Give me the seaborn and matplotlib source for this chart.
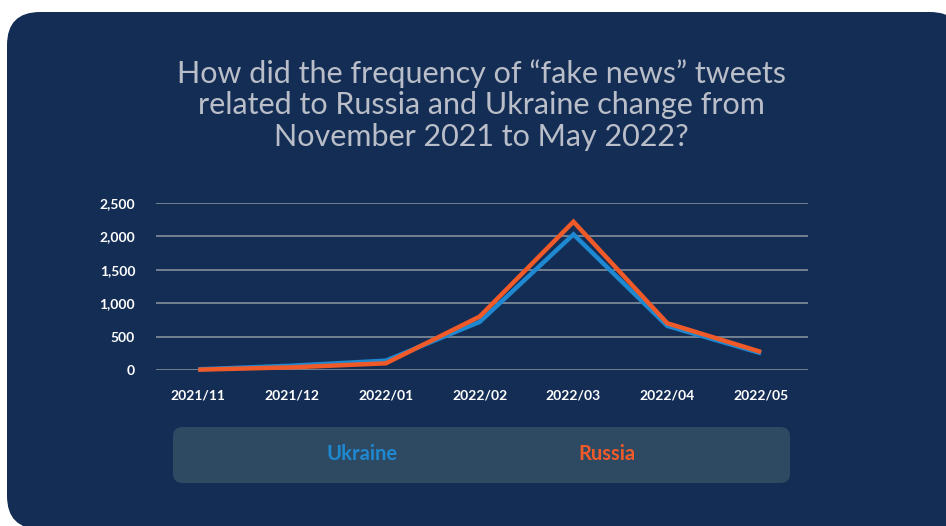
import matplotlib
matplotlib.use("Agg")
import matplotlib.pyplot as plt
from matplotlib.patches import FancyBboxPatch
import seaborn as sns
import pandas as pd

months = ["2021/11", "2021/12", "2022/01", "2022/02", "2022/03", "2022/04", "2022/05"]
ukraine = [10, 65, 140, 720, 2030, 660, 250]
russia = [5, 40, 100, 800, 2220, 700, 270]
series_names = ["Ukraine", "Russia"]
y_ticks = [0, 500, 1000, 1500, 2000, 2500]

BG = "#142d55"
UA_C = "#1e88d0"
RU_C = "#f05a28"

df = pd.DataFrame({
    "month": months * 2,
    "idx": list(range(len(months))) * 2,
    "value": ukraine + russia,
    "country": [series_names[0]] * len(months) + [series_names[1]] * len(months),
})

sns.set_theme(style="white")
plt.rcParams["font.family"] = ["Lato", "DejaVu Sans"]

W, H = 946, 526
fig = plt.figure(figsize=(W / 100, H / 100), dpi=100)
fig.patch.set_facecolor("white")

# card background
card = FancyBboxPatch((7 / W, -3 / H), (W + 10) / W, (H - 12 + 3) / H,
                      boxstyle="round,pad=0,rounding_size=0.035",
                      transform=fig.transFigure, facecolor=BG, edgecolor="none",
                      mutation_aspect=W / H, zorder=-10)
fig.patches.append(card)

# legend box
leg = FancyBboxPatch((173 / W, 1 - 483 / H), (790 - 173) / W, (483 - 427) / H,
                     boxstyle="round,pad=0,rounding_size=0.01",
                     transform=fig.transFigure, facecolor="#2e4a63", edgecolor="none",
                     mutation_aspect=W / H, zorder=-5)
fig.patches.append(leg)

ax = fig.add_axes([156 / W, 1 - 370 / H, (808 - 156) / W, (370 - 203) / H])
ax.set_facecolor("none")
ax.set_zorder(5)

sns.lineplot(data=df, x="idx", y="value", hue="country",
             palette={"Ukraine": UA_C, "Russia": RU_C},
             linewidth=3.2, ax=ax, legend=False)
for ln in ax.get_lines():
    ln.set_clip_on(False)
    ln.set_solid_joinstyle("miter")
    ln.set_solid_capstyle("butt")

ax.set_xlim(-0.45, 6.5)
ax.set_ylim(0, 2500)
ax.set_yticks(y_ticks)
ax.set_yticklabels([f"{v:,}" for v in y_ticks])
ax.set_xticks(range(len(months)))
ax.set_xticklabels(months)
ax.set_xlabel("")
ax.set_ylabel("")
for s in ax.spines.values():
    s.set_visible(False)
ax.grid(axis="y", color="#7b8796", linewidth=1.3)
ax.grid(axis="x", visible=False)
ax.set_axisbelow(True)
ax.tick_params(axis="both", length=0, colors="white", labelsize=10)
ax.tick_params(axis="y", pad=15)
ax.tick_params(axis="x", pad=14)
for lab in ax.get_xticklabels() + ax.get_yticklabels():
    lab.set_fontweight("bold")
    lab.set_color("white")

fig.text(481 / W, 1 - 105 / H,
         "How did the frequency of \u201cfake news\u201d tweets\nrelated to Russia and Ukraine change from\nNovember 2021 to May 2022?",
         ha="center", va="center", color="#b9bec8", fontsize=22, linespacing=1.15)

fig.text(362 / W, 1 - 454 / H, series_names[0], ha="center", va="center",
         color=UA_C, fontsize=14.5, fontweight="bold")
fig.text(607 / W, 1 - 454 / H, series_names[1], ha="center", va="center",
         color=RU_C, fontsize=14.5, fontweight="bold")

fig.savefig("out.png", dpi=100, facecolor=fig.get_facecolor())
